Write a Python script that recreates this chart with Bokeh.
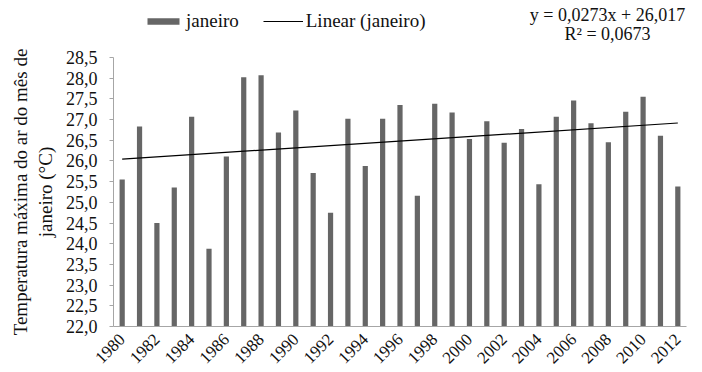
import math
from bokeh.plotting import figure
from bokeh.layouts import column
from bokeh.models import Legend, LegendItem, Label, FixedTicker, Range1d, ColumnDataSource
from bokeh.embed import file_html
from bokeh.resources import INLINE

# ---- data ----
years = list(range(1980, 2013))
tmax = [25.55, 26.83, 24.50, 25.36, 27.07, 23.88, 26.11, 28.02, 28.07, 26.69,
        27.22, 25.71, 24.75, 27.02, 25.88, 27.02, 27.35, 25.16, 27.38, 27.17,
        26.53, 26.96, 26.44, 26.77, 25.44, 27.07, 27.46, 26.91, 26.45, 27.19,
        27.55, 26.61, 25.38]
trend_slope = 0.0273
trend_intercept = 26.017
eq_text = "y = 0,0273x + 26,017"
r2_text = "R² = 0,0673"
x_tick_years = list(range(1980, 2013, 2))
y_ticks = [22.0, 22.5, 23.0, 23.5, 24.0, 24.5, 25.0, 25.5, 26.0, 26.5, 27.0, 27.5, 28.0, 28.5]
y_tick_labels = ["22,0", "22,5", "23,0", "23,5", "24,0", "24,5", "25,0", "25,5",
                 "26,0", "26,5", "27,0", "27,5", "28,0", "28,5"]
series_name = "janeiro"
trend_name = "Linear (janeiro)"
y_label = "Temperatura máxima do ar do mês de\njaneiro (°C)"

FONT = "Liberation Serif"
TXT = "#111111"
BAR = "#666666"
AXIS = "#a6a6a6"
W = 702
HEAD_H = 47
LEFT = 113
RIGHT = 16

trend_x = [years[0], years[-1]]
trend_y = [trend_slope * 1 + trend_intercept, trend_slope * len(years) + trend_intercept]

# ---- main chart ----
p = figure(width=W, height=372 - HEAD_H, output_backend="svg", toolbar_location=None,
           x_range=Range1d(years[0] - 0.5, years[-1] + 0.5),
           y_range=Range1d(y_ticks[0], y_ticks[-1]),
           min_border_left=LEFT, min_border_right=RIGHT, min_border_top=10, min_border_bottom=46)
p.outline_line_color = None
p.xgrid.grid_line_color = None
p.ygrid.grid_line_color = None

src = ColumnDataSource(dict(x=years, top=tmax))
p.vbar(x="x", top="top", bottom=y_ticks[0], width=0.3, source=src,
       fill_color=BAR, line_color=None)
p.line(trend_x, trend_y, line_color="black", line_width=1.2)

p.xaxis.ticker = FixedTicker(ticks=x_tick_years)
p.xaxis.major_label_orientation = math.pi / 4
p.xaxis.major_tick_line_color = None
p.xaxis.minor_tick_line_color = None
p.xaxis.axis_line_color = AXIS
p.xaxis.major_label_text_font = FONT
p.xaxis.major_label_text_font_size = "17px"
p.xaxis.major_label_text_color = TXT
p.xaxis.major_label_standoff = 4

p.yaxis.ticker = FixedTicker(ticks=y_ticks)
p.yaxis.major_label_overrides = {t: l for t, l in zip(y_ticks, y_tick_labels)}
p.yaxis.minor_tick_line_color = None
p.yaxis.major_tick_in = 0
p.yaxis.major_tick_out = 4
p.yaxis.major_tick_line_color = AXIS
p.yaxis.axis_line_color = AXIS
p.yaxis.major_label_text_font = FONT
p.yaxis.major_label_text_font_size = "18px"
p.yaxis.major_label_text_color = TXT
p.yaxis.major_label_standoff = 12
p.yaxis.axis_label = y_label
p.yaxis.axis_label_text_font = FONT
p.yaxis.axis_label_text_font_size = "19px"
p.yaxis.axis_label_text_font_style = "normal"
p.yaxis.axis_label_text_color = TXT
p.yaxis.axis_label_standoff = 7

# ---- header with legend and regression equation ----
h = figure(width=W, height=HEAD_H, output_backend="svg", toolbar_location=None,
           x_range=Range1d(LEFT, W - RIGHT), y_range=Range1d(HEAD_H, 0),
           min_border_left=LEFT, min_border_right=RIGHT, min_border_top=0, min_border_bottom=0,
           x_axis_type=None, y_axis_type=None)
h.outline_line_color = None
h.xgrid.grid_line_color = None
h.ygrid.grid_line_color = None
leg_bar = h.vbar(x=years, top=tmax, width=0.3, fill_color=BAR, line_color=None, visible=False)
leg_line = h.line(x=trend_x, y=trend_y, line_color="black", line_width=1.2, visible=False)

legend = Legend(items=[LegendItem(label=series_name, renderers=[leg_bar]),
                       LegendItem(label=trend_name, renderers=[leg_line])],
                orientation="horizontal", location=(30, 15),
                glyph_width=40, glyph_height=8, label_standoff=3, spacing=24,
                padding=0, margin=0, border_line_color=None, background_fill_alpha=0,
                inactive_fill_alpha=0,
                label_text_font=FONT, label_text_font_size="19px", label_text_color=TXT)
h.add_layout(legend, "center")

h.add_layout(Label(x=607, y=14, text=eq_text, text_align="center", text_baseline="middle",
                   text_font=FONT, text_font_size="18px", text_color=TXT))
h.add_layout(Label(x=607, y=33, text=r2_text, text_align="center", text_baseline="middle",
                   text_font=FONT, text_font_size="18px", text_color=TXT))

layout = column(h, p, spacing=0)
open("out.html", "w").write(file_html(layout, INLINE))
